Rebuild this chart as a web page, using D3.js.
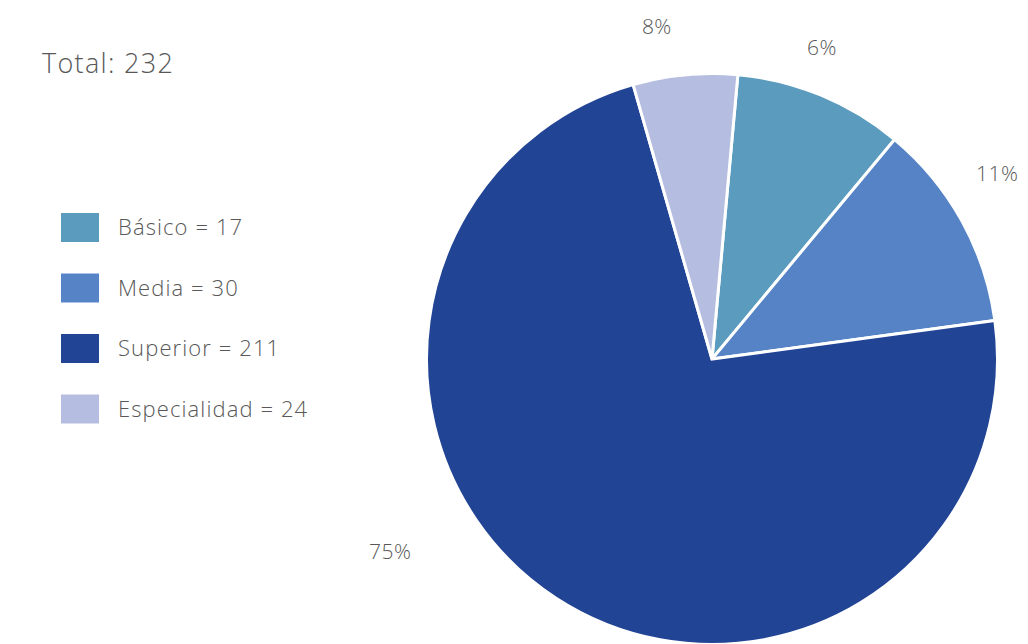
<!DOCTYPE html>
<html>
<head>
<meta charset="utf-8">
<script src="https://cdn.jsdelivr.net/npm/d3@7"></script>
<style>
  html, body { margin: 0; padding: 0; background: #fff; }
  svg { display: block; font-family: "Open Sans", Lato, sans-serif; font-weight: 300; }
</style>
</head>
<body>
<div id="chart"></div>
<script>
// data
const categories = ['Básico', 'Media', 'Superior', 'Especialidad']
const counts = [17, 30, 211, 24]
const total = 232
// slice shares as drawn (percent of the circle)
const shares = [9.6, 11.8, 72.7, 5.9]
const pctLabels = ['6%', '11%', '75%', '8%']
const colors = ['#5b9bbe', '#5583c5', '#224495', '#b5bde0']

const width = 1028, height = 644
const cx = 712, cy = 359, radius = 285.5
const textColor = '#585858'

const svg = d3.select('#chart').append('svg')
  .attr('width', width)
  .attr('height', height)

// title
svg.append('text')
  .attr('x', 42)
  .attr('y', 73)
  .style('font-size', '27px')
  .style('letter-spacing', '1.3px')
  .style('fill', textColor)
  .text(`Total: ${total}`)

// pie
const startDeg = 5.2
const pie = d3.pie()
  .sort(null)
  .value(d => d)
  .startAngle(startDeg * Math.PI / 180)
  .endAngle((startDeg + 360) * Math.PI / 180)
const arcs = pie(shares)
const arc = d3.arc().innerRadius(0).outerRadius(radius)

const g = svg.append('g')
  .attr('transform', `translate(${cx}, ${cy})`)

g.selectAll('.slice')
  .data(arcs)
  .enter().append('path')
  .attr('class', 'slice')
  .attr('d', arc)
  .attr('fill', (d, i) => colors[i])
  .attr('stroke', '#fff')
  .attr('stroke-width', 3)
  .attr('stroke-linejoin', 'miter')

// percent labels, nudged off the slice mid angle like the original
const labelShift = [-3, -4, 26, -4] // degrees
const labelRadius = [330, 340, 375, 337]
g.selectAll('.pct')
  .data(arcs)
  .enter().append('text')
  .attr('class', 'pct')
  .attr('x', (d, i) => {
    const a = (d.startAngle + d.endAngle) / 2 + labelShift[i] * Math.PI / 180
    return Math.sin(a) * labelRadius[i]
  })
  .attr('y', (d, i) => {
    const a = (d.startAngle + d.endAngle) / 2 + labelShift[i] * Math.PI / 180
    return -Math.cos(a) * labelRadius[i] + 7
  })
  .style('text-anchor', 'middle')
  .style('font-size', '21px')
  .style('letter-spacing', '0.5px')
  .style('fill', textColor)
  .text((d, i) => pctLabels[i])

// legend
const legend = svg.selectAll('.legend')
  .data(categories)
  .enter().append('g')
  .attr('class', 'legend')
  .attr('transform', (d, i) => `translate(61, ${213 + i * 60.5})`)

legend.append('rect')
  .attr('width', 38)
  .attr('height', 29)
  .attr('fill', (d, i) => colors[i])

legend.append('text')
  .attr('x', 57)
  .attr('y', 22)
  .style('font-size', '22px')
  .style('letter-spacing', '1.1px')
  .style('fill', textColor)
  .text((d, i) => `${d} = ${counts[i]}`)
</script>
</body>
</html>
